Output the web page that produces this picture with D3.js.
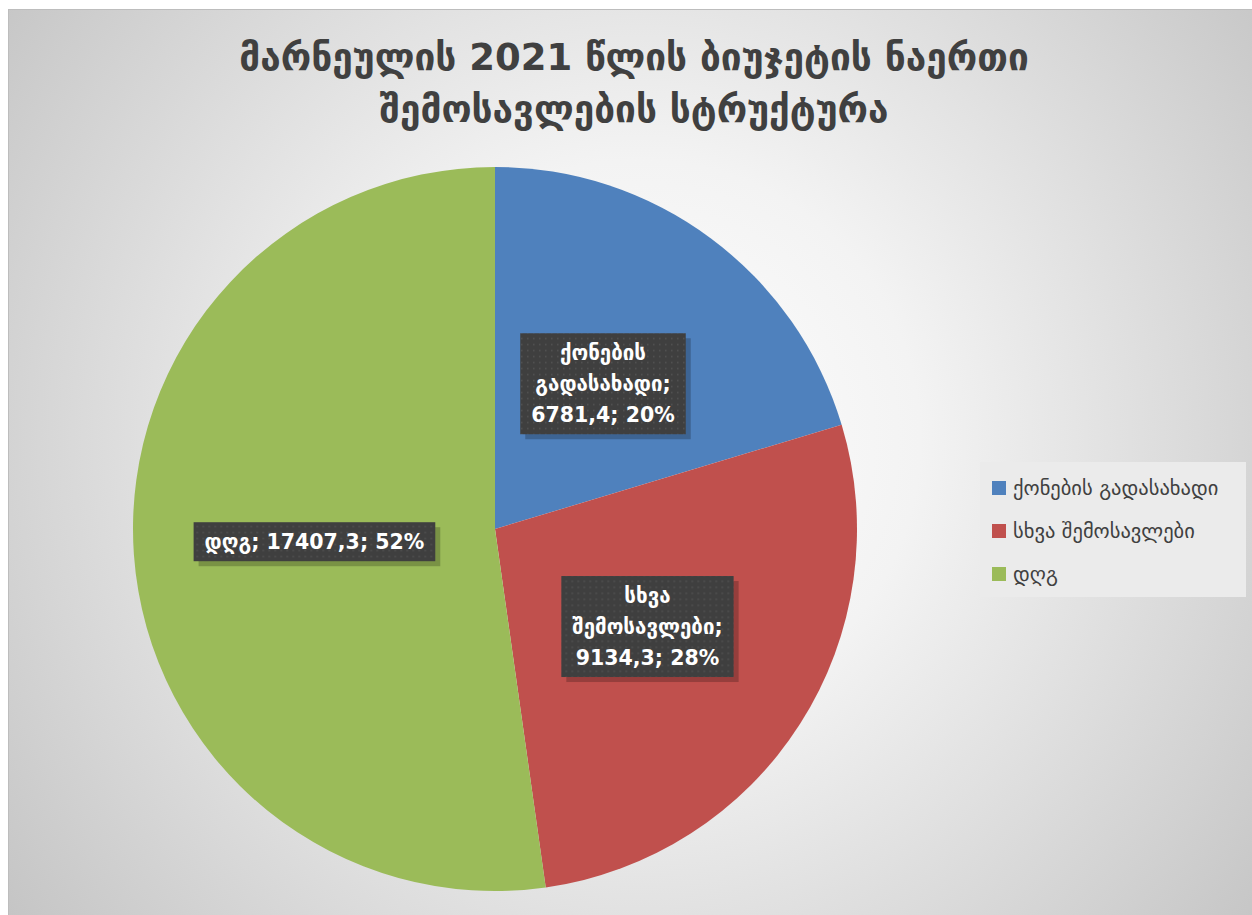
<!DOCTYPE html>
<html>
<head>
<meta charset="utf-8">
<script src="https://cdn.jsdelivr.net/npm/d3@7"></script>
<style>
  body { margin: 0; background: #fff; }
  svg { display: block; font-family: "DejaVu Sans", "Open Sans", sans-serif; }
</style>
</head>
<body>
<div id="chart"></div>
<script>
var titleLines = ["მარნეულის 2021 წლის ბიუჯეტის ნაერთი", "შემოსავლების სტრუქტურა"];
var categories = ["ქონების გადასახადი", "სხვა შემოსავლები", "დღგ"];
var values = [6781.4, 9134.3, 17407.3];
var valueLabels = ["6781,4", "9134,3", "17407,3"];
var percentLabels = ["20%", "28%", "52%"];
var colors = ["#4f81bd", "#c0504d", "#9bbb59"];
// how each data label wraps into lines
var labelLines = [
    ["ქონების", "გადასახადი;", "6781,4; 20%"],
    ["სხვა", "შემოსავლები;", "9134,3; 28%"],
    ["დღგ; 17407,3; 52%"]
];

var svgWidth = 1252, svgHeight = 915;
var cx = 495, cy = 529, radius = 362;

var svg = d3.select("#chart").append("svg")
    .attr("width", svgWidth)
    .attr("height", svgHeight);

var defs = svg.append("defs");
var grad = defs.append("radialGradient")
    .attr("id", "bg")
    .attr("gradientUnits", "userSpaceOnUse")
    .attr("cx", 640).attr("cy", 440).attr("r", 800);
grad.append("stop").attr("offset", "0%").attr("stop-color", "#ffffff");
grad.append("stop").attr("offset", "35%").attr("stop-color", "#f3f3f3");
grad.append("stop").attr("offset", "100%").attr("stop-color", "#c4c4c4");

var pat = defs.append("pattern")
    .attr("id", "dots")
    .attr("patternUnits", "userSpaceOnUse")
    .attr("width", 6).attr("height", 6);
pat.append("rect").attr("width", 6).attr("height", 6).attr("fill", "#3f3f3f");
pat.append("rect").attr("x", 2).attr("y", 2).attr("width", 1.5).attr("height", 1.5).attr("fill", "#525252");

// chart frame
svg.append("rect")
    .attr("x", 8.5).attr("y", 9.5)
    .attr("width", svgWidth - 8).attr("height", svgHeight - 9)
    .attr("fill", "url(#bg)")
    .attr("stroke", "#bdbdbd");

// title
svg.append("g").selectAll("text")
    .data(titleLines)
    .join("text")
    .attr("x", 634)
    .attr("y", (d, i) => 70 + i * 52)
    .attr("text-anchor", "middle")
    .attr("font-size", 37)
    .attr("font-weight", "bold")
    .attr("fill", "#404040")
    .text(d => d);

// pie
var pie = d3.pie().sort(null).value(d => d);
var arcs = pie(values);
var arc = d3.arc().innerRadius(0).outerRadius(radius);
var labelArc = d3.arc().innerRadius(radius * 0.5).outerRadius(radius * 0.5);

var g = svg.append("g").attr("transform", `translate(${cx}, ${cy})`);

g.selectAll("path")
    .data(arcs)
    .join("path")
    .attr("d", arc)
    .attr("fill", (d, i) => colors[i]);

// data labels
var lineH = 31, fontSize = 20.5, padX = 11, padY = 6;
arcs.forEach(function (d, i) {
    var c = labelArc.centroid(d);
    var lines = labelLines[i];
    var lab = g.append("g").attr("transform", `translate(${c[0]}, ${c[1]})`);
    var txt = lab.append("g");
    lines.forEach(function (t, j) {
        txt.append("text")
            .attr("x", 0)
            .attr("y", (j - (lines.length - 1) / 2) * lineH)
            .attr("dy", "0.35em")
            .attr("text-anchor", "middle")
            .attr("font-size", fontSize)
            .attr("font-weight", "bold")
            .attr("fill", "#ffffff")
            .text(t);
    });
    var bb = txt.node().getBBox();
    var w = bb.width + padX * 2;
    var h = lines.length * lineH + padY * 2 - 4;
    lab.insert("rect", ":first-child")
        .attr("x", -w / 2).attr("y", -h / 2)
        .attr("width", w).attr("height", h)
        .attr("fill", "url(#dots)");
    lab.insert("rect", ":first-child")
        .attr("x", -w / 2 + 5).attr("y", -h / 2 + 5)
        .attr("width", w).attr("height", h)
        .attr("fill", "#000")
        .attr("opacity", 0.22);
});

// legend
var legend = svg.append("g").attr("transform", "translate(980, 462)");
legend.append("rect")
    .attr("width", 266).attr("height", 135)
    .attr("fill", "#ebebeb");
var items = legend.selectAll("g.item")
    .data(categories)
    .join("g")
    .attr("class", "item")
    .attr("transform", (d, i) => `translate(12, ${26 + i * 43})`);
items.append("rect")
    .attr("x", 0).attr("y", -7)
    .attr("width", 14).attr("height", 14)
    .attr("fill", (d, i) => colors[i]);
items.append("text")
    .attr("x", 21)
    .attr("dy", "0.35em")
    .attr("font-size", 20.5)
    .attr("fill", "#404040")
    .text(d => d);
</script>
</body>
</html>
